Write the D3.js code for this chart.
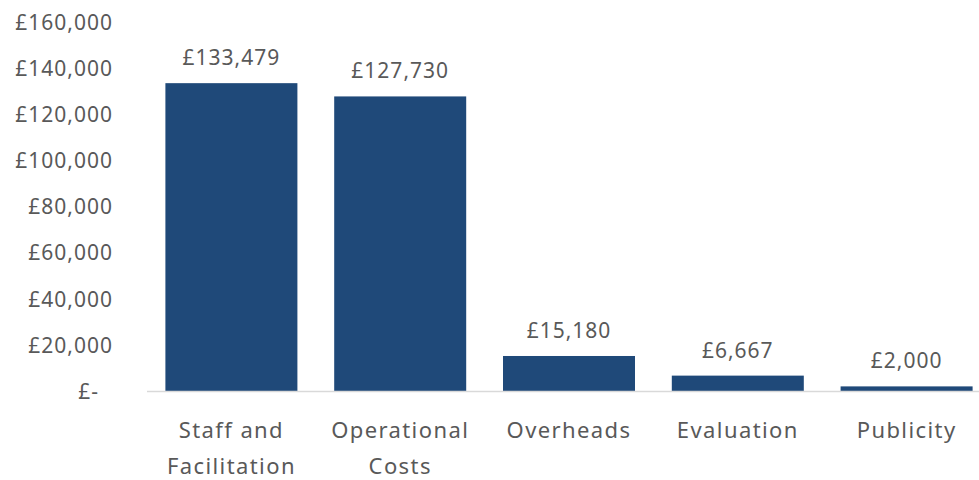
<!DOCTYPE html>
<html>
<head>
<meta charset="utf-8">
<script src="https://cdn.jsdelivr.net/npm/d3@7"></script>
<style>
  html, body { margin: 0; padding: 0; background: #fff; }
  svg text { font-family: "Noto Sans", "DejaVu Sans", sans-serif; fill: #595959; }
</style>
</head>
<body>
<svg id="chart" width="979" height="480"></svg>
<script>
// Budget breakdown by cost heading (GBP)
const categories = [["Staff and", "Facilitation"], ["Operational", "Costs"], ["Overheads"], ["Evaluation"], ["Publicity"]];
const values = [133479, 127730, 15180, 6667, 2000];
const yTicks = [0, 20000, 40000, 60000, 80000, 100000, 120000, 140000, 160000];

const svg = d3.select("#chart");
const margin = { left: 147, right: -12, top: 22, bottom: 89 };
const W = 979, H = 480;

const keys = categories.map((c, i) => i);
const x = d3.scaleBand().domain(keys).range([margin.left, W - margin.right]).paddingInner(0.218).paddingOuter(0.109);
const y = d3.scaleLinear().domain([0, 160000]).range([H - margin.bottom, margin.top]);

const gbp = d3.format(",");
const tickLabel = v => v === 0 ? "£-" : "£" + gbp(v);

// value axis labels (no gridlines)
const yAxis = svg.append("g").attr("transform", `translate(${margin.left - 34},0)`)
  .call(d3.axisLeft(y).tickValues(yTicks).tickFormat(tickLabel).tickSize(0).tickPadding(0));
yAxis.select(".domain").remove();
yAxis.selectAll("text")
  .style("font-size", "21px")
  .style("letter-spacing", "1px")
  .attr("dy", "0.35em")
  .attr("dx", d => d === 0 ? -14 : 0);

// bars
svg.append("g").selectAll("rect").data(values).join("rect")
  .attr("x", (d, i) => x(i))
  .attr("width", x.bandwidth())
  .attr("y", d => y(d))
  .attr("height", d => y(0) - y(d))
  .attr("fill", "#1F4979");

// baseline
svg.append("line")
  .attr("x1", margin.left).attr("x2", W)
  .attr("y1", y(0) + 0.5).attr("y2", y(0) + 0.5)
  .attr("stroke", "#D9D9D9").attr("stroke-width", 1.5);

// data labels
svg.append("g").selectAll("text").data(values).join("text")
  .attr("x", (d, i) => x(i) + x.bandwidth() / 2)
  .attr("y", d => y(d) - 18)
  .attr("text-anchor", "middle")
  .style("font-size", "21px")
  .style("letter-spacing", "1px")
  .text(d => "£" + gbp(d));

// category labels
const cat = svg.append("g").selectAll("text").data(categories).join("text")
  .attr("text-anchor", "middle")
  .style("font-size", "22px")
  .style("letter-spacing", "1.4px")
  .attr("transform", (d, i) => `translate(${x(i) + x.bandwidth() / 2},${y(0) + 47})`);
cat.selectAll("tspan").data(d => d).join("tspan")
  .attr("x", 0)
  .attr("dy", (d, j) => j === 0 ? 0 : 36)
  .text(d => d);
</script>
</body>
</html>
